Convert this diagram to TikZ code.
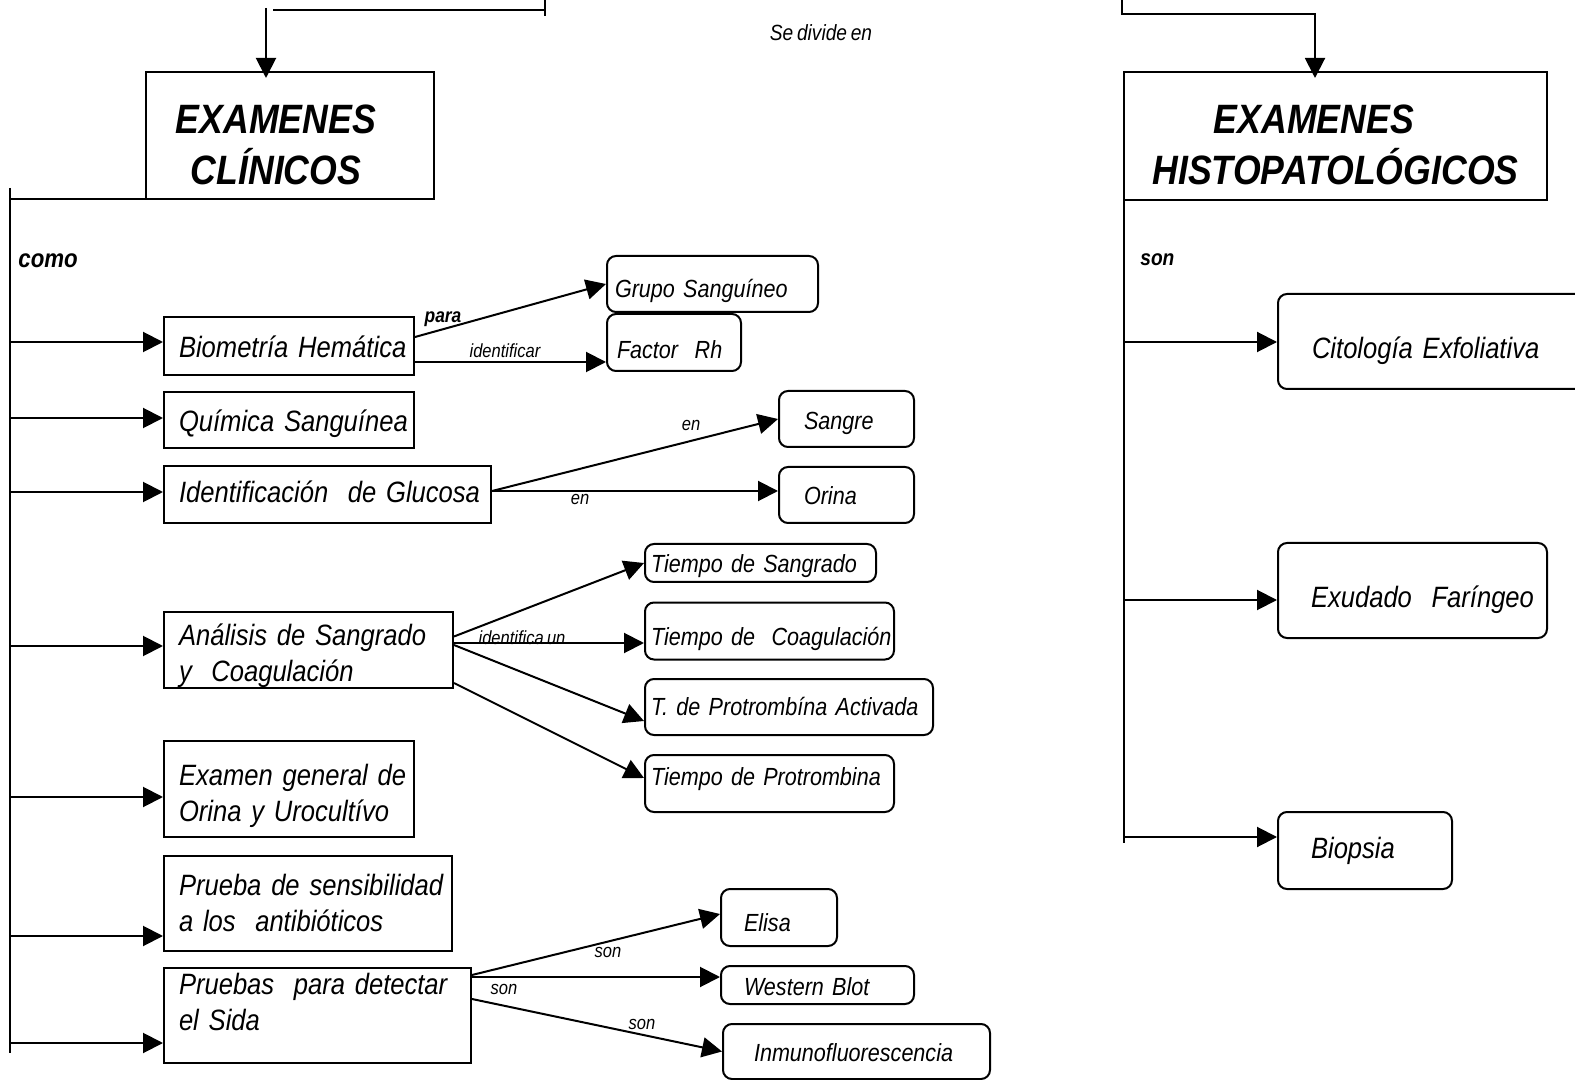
\documentclass[tikz,border=0pt]{standalone}
\usepackage{fontspec}
\setmainfont{Liberation Sans}[FakeStretch=0.87,WordSpace=0.7]
\usetikzlibrary{arrows.meta}
\newcommand{\bt}[3]{\hspace*{#1}\raisebox{\dimexpr#2-2pt\relax}[\height][\depth]{\begin{tabular}{@{}l@{}}#3\end{tabular}}}
\newcommand{\ttl}[3]{\hspace*{#1}\raisebox{#2}[\height][\depth]{\begin{tabular}{@{}c@{}}#3\end{tabular}}}
\begin{document}
\begin{tikzpicture}[x=0.5pt,y=-0.5pt,
  line/.style={line width=1pt},
  arr/.style={line width=1pt,-{Triangle[length=10pt,width=10pt]}},
  lbox/.style={draw,line width=1pt,inner sep=0pt,align=left,font=\fontsize{14.7}{18}\selectfont\itshape},
  rbox/.style={draw,line width=1pt,rounded corners=4.5pt,inner sep=0pt,align=left,font=\fontsize{12.4}{15}\selectfont\itshape},
  hbox/.style={rbox,font=\fontsize{14.7}{18}\selectfont\itshape},
  tbox/.style={draw,line width=1pt,inner sep=0pt,align=center,font=\fontsize{20.5}{23.5}\selectfont\bfseries\itshape},
  elab/.style={inner sep=0pt,font=\fontsize{9.5}{11}\selectfont\itshape},
  blab/.style={inner sep=0pt,font=\fontsize{10}{12}\selectfont\bfseries\itshape}]
\useasboundingbox (0,0) rectangle (1575,1080);
\clip (0,0) rectangle (1575,1080);

% title boxes
\node[tbox,text width=144pt,minimum height=63.5pt] (clin) at (290,135.5) {\ttl{-14pt}{-7pt}{EXAMENES\\CLÍNICOS}};
\node[tbox,text width=211.5pt,minimum height=64pt] (histo) at (1335.5,136) {\ttl{0pt}{-6.75pt}{EXAMENES\rule{21.5pt}{0pt}\\HISTOPATOLÓGICOS}};

% left boxes
\node[lbox,text width=125pt,minimum height=29pt] (bio) at (289,346) {\bt{7.5pt}{0pt}{Biometría Hemática}};
\node[lbox,text width=125pt,minimum height=28pt] (qui) at (289,420) {\bt{7.5pt}{0pt}{Química Sanguínea}};
\node[lbox,text width=163.5pt,minimum height=28.5pt] (glu) at (327.5,494.5) {\bt{7.5pt}{1.75pt}{Identificación\ \ de Glucosa}};
\node[lbox,text width=144.5pt,minimum height=38pt] (ana) at (308.5,650) {\bt{7.5pt}{-1pt}{Análisis de Sangrado\\y\ \ Coagulación}};
\node[lbox,text width=125pt,minimum height=48pt] (exa) at (289,789) {\bt{7.5pt}{-1.75pt}{Examen general de\\Orina y Urocultívo}};
\node[lbox,text width=144pt,minimum height=47.5pt] (sen) at (308,903.5) {\bt{7.5pt}{0.75pt}{Prueba de sensibilidad\\a los\ \ antibióticos}};
\node[lbox,text width=153.5pt,minimum height=47.5pt] (sida) at (317.5,1015.5) {\bt{7.5pt}{7pt}{Pruebas\ \ para detectar\\el Sida}};

% right-side result boxes
\node[rbox,text width=105.5pt,minimum height=28pt] (grupo) at (712.5,284) {\bt{4pt}{-2pt}{Grupo Sanguíneo}};
\node[rbox,text width=67pt,minimum height=28.5pt] (factor) at (674,342.5) {\bt{5pt}{-3pt}{Factor\ \ Rh}};
\node[rbox,text width=67.5pt,minimum height=28pt] (sangre) at (846.5,419) {\bt{12.5pt}{-0.5pt}{Sangre}};
\node[rbox,text width=67.5pt,minimum height=28pt] (orina) at (846.5,495) {\bt{12.5pt}{0pt}{Orina}};
\node[rbox,text width=115.5pt,minimum height=19pt] (tsang) at (760.5,563) {\bt{3pt}{0pt}{Tiempo de Sangrado}};
\node[rbox,text width=124.5pt,minimum height=28.5pt] (tcoag) at (769.5,631) {\bt{3pt}{-2pt}{Tiempo de\ \ Coagulación}};
\node[rbox,text width=144pt,minimum height=28pt] (tact) at (789,707) {\bt{3pt}{1pt}{T. de Protrombína Activada}};
\node[rbox,text width=124.5pt,minimum height=28.5pt] (tprot) at (769.5,783.5) {\bt{3pt}{4pt}{Tiempo de Protrombina}};
\node[rbox,text width=58pt,minimum height=28.5pt] (elisa) at (779,917.5) {\bt{11.5pt}{-2pt}{Elisa}};
\node[rbox,text width=96.5pt,minimum height=19pt] (western) at (817.5,985) {\bt{11.5pt}{0pt}{Western Blot}};
\node[rbox,text width=133.5pt,minimum height=27.5pt] (inmuno) at (856.5,1051.5) {\bt{15.5pt}{0pt}{Inmunofluorescencia}};

% histopathology boxes
\node[hbox,text width=171pt,minimum height=47.5pt] (cito) at (1449,341.5) {\bt{17pt}{-3pt}{Citología Exfoliativa}};
\node[hbox,text width=134.5pt,minimum height=47.5pt] (exu) at (1412.5,590.5) {\bt{16.5pt}{-3pt}{Exudado\ \ Faríngeo}};
\node[hbox,text width=87pt,minimum height=38.5pt] (biop) at (1365,850.5) {\bt{16.5pt}{1.5pt}{Biopsia}};

% labels
\node[blab,font=\fontsize{12.8}{15}\selectfont\bfseries\itshape,anchor=west] (como) at (18,261) {como};
\node[blab,font=\fontsize{11}{13}\selectfont\bfseries\itshape,anchor=west] (son) at (1140,260) {son};
\node[elab,font=\fontsize{11}{13}\selectfont\itshape] (divide) at (821,33) {Se divide en};
\node[blab] (para) at (443,319) {para};
\node[elab] (lident) at (505,351) {identificar};
\node[elab] (len1) at (691,425) {en};
\node[elab] (len2) at (580,499) {en};
\node[elab] (lidun) at (522,638) {identifica un};
\node[elab] (lson1) at (608,952) {son};
\node[elab] (lson2) at (504,989) {son};
\node[elab] (lson3) at (642,1024) {son};

% top connectors
\coordinate (tl) at (266,8);
\draw[arr,shorten >=-3.5pt] (tl) -- (tl |- clin.north);
\coordinate (th0) at (273,10);
\coordinate (th1) at (545,10);
\draw[line] (th0) -- (th1);
\coordinate (tk0) at (545,-2);
\coordinate (tk1) at (545,16);
\draw[line] (tk0) -- (tk1);
\coordinate (tr0) at (1122,-2);
\coordinate (tr1) at (1315,14);
\draw[arr,shorten >=-3.5pt] (tr0) |- (tr1) -- (tr1 |- histo.north);

% left spine
\coordinate (sp0) at (10,188);
\coordinate (sp1) at (10,1053);
\draw[line] (sp0) -- (sp1);
\coordinate (sph) at (10,199);
\draw[line] (sph) -- (sph -| clin.west);
\foreach \y/\n in {342/bio,418/qui,492/glu,646/ana,797/exa,936/sen,1043/sida}{
  \coordinate (b\n) at (10,\y);
  \draw[arr] (b\n) -- (b\n -| \n.west);
}

% right spine
\coordinate (rs0) at (1124,191);
\coordinate (rs1) at (1124,843);
\draw[line] (rs0) -- (rs1);
\foreach \y/\n in {342/cito,600/exu,837/biop}{
  \coordinate (r\n) at (1124,\y);
  \draw[arr] (r\n) -- (r\n -| \n.west);
}

% result connectors
\draw[arr] ([yshift=4.5pt]bio.east) -- (grupo.west);
\draw[arr] ([yshift=-8pt]bio.east) -- ([yshift=-8pt]bio.east -| factor.west);
\draw[arr] ([yshift=1.75pt]glu.east) -- (sangre.west);
\draw[arr] ([yshift=1.75pt]glu.east) -- ([yshift=1.75pt]glu.east -| orina.west);
\draw[arr] ([yshift=6.75pt]ana.east) -- (tsang.west);
\draw[arr] ([yshift=3.5pt]ana.east) -- ([yshift=3.5pt]ana.east -| tcoag.west);
\draw[arr] ([yshift=2.5pt]ana.east) -- ([yshift=-7pt]tact.west);
\draw[arr] ([yshift=-16.5pt]ana.east) -- ([yshift=2.75pt]tprot.west);
\draw[arr] ([yshift=20.25pt]sida.east) -- ([yshift=1.75pt]elisa.west);
\draw[arr] ([yshift=19.25pt]sida.east) -- ([yshift=19.25pt]sida.east -| western.west);
\draw[arr] ([yshift=8.25pt]sida.east) -- (inmuno.west);
\end{tikzpicture}
\end{document}
